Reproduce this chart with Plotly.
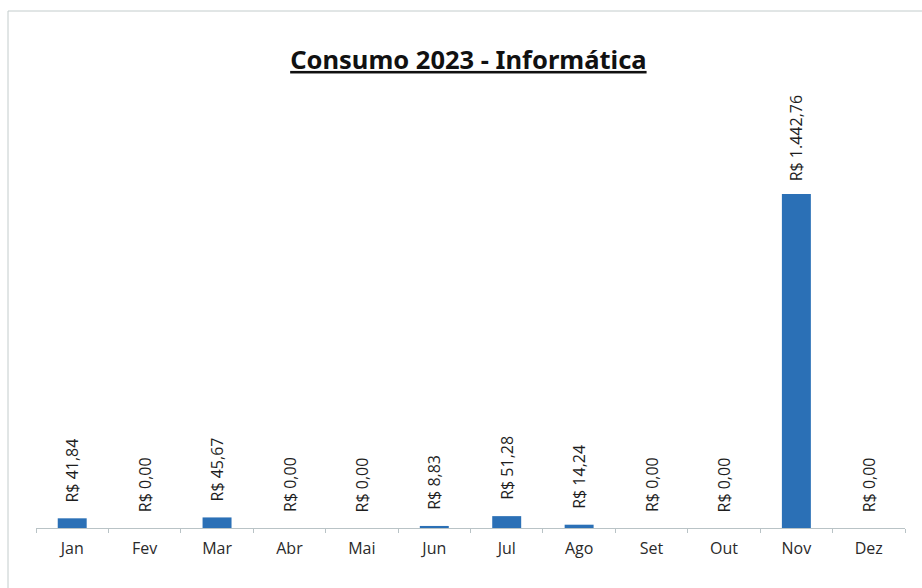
import plotly.graph_objects as go

meses = ["Jan", "Fev", "Mar", "Abr", "Mai", "Jun", "Jul", "Ago", "Set", "Out", "Nov", "Dez"]
valores = [41.84, 0.00, 45.67, 0.00, 0.00, 8.83, 51.28, 14.24, 0.00, 0.00, 1442.76, 0.00]
rotulos = ["R$ 41,84", "R$ 0,00", "R$ 45,67", "R$ 0,00", "R$ 0,00", "R$ 8,83",
           "R$ 51,28", "R$ 14,24", "R$ 0,00", "R$ 0,00", "R$ 1.442,76", "R$ 0,00"]

W, H = 922, 588
ml, mr, mt, mb = 36, 17, 80, 60
pw, ph = W - ml - mr, H - mt - mb

def px_x(p):
    return (p - ml) / pw

def px_y(p):
    return (H - mb - p) / ph

fig = go.Figure(go.Bar(
    x=meses, y=valores,
    marker=dict(color="#2b70b6", line=dict(width=0)),
    width=0.4, cliponaxis=False, hoverinfo="x+y",
))

for m, v, r in zip(meses, valores, rotulos):
    fig.add_annotation(x=m, y=v, text=r, textangle=-90, showarrow=False,
                       xanchor="center", yanchor="bottom", yshift=11 if v > 1000 else 14,
                       font=dict(family="Open Sans", size=16, color="#1e1e1e"))

fig.update_layout(
    width=W, height=H,
    margin=dict(l=ml, r=mr, t=mt, b=mb),
    paper_bgcolor="white", plot_bgcolor="white",
    showlegend=False,
    title=dict(text="<b><u>Consumo 2023 - Informática</u></b>",
               x=0.508, xanchor="center", y=1 - 60 / H, yanchor="middle",
               yref="container",
               font=dict(family="Noto Sans", size=25.5, color="#111111")),
    xaxis=dict(showline=True, linecolor="#b9c3c6", linewidth=1,
               ticks="outside", tickson="boundaries", ticklen=4, tickcolor="#b9c3c6",
               tickfont=dict(family="Open Sans", size=16, color="#2a2a2a"),
               ticklabelstandoff=6,
               showgrid=False, zeroline=False, fixedrange=True),
    yaxis=dict(range=[0, 1935], visible=False, showgrid=False, zeroline=False),
    shapes=[dict(type="rect", xref="paper", yref="paper",
                 x0=px_x(8), x1=px_x(930), y0=px_y(600), y1=px_y(11),
                 line=dict(color="#c3cccc", width=1), layer="below")],
)

fig.write_html("out.html", config={"displayModeBar": False},
               post_script="document.body.style.margin='0';")
